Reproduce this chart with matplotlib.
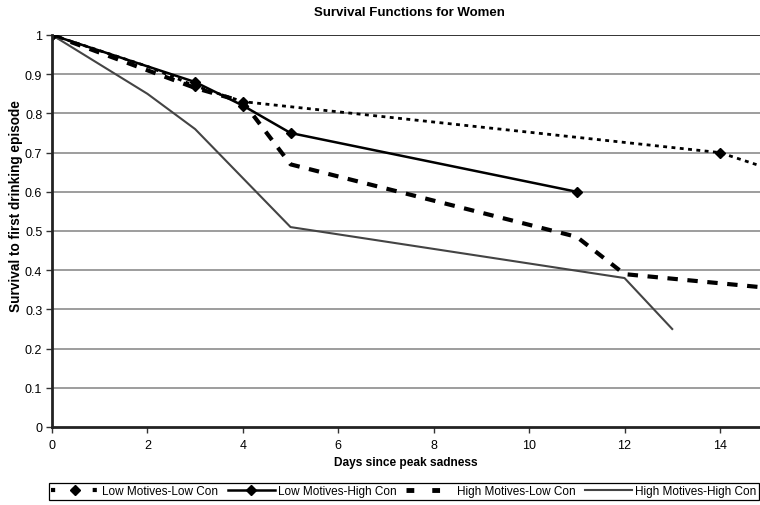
import matplotlib
matplotlib.use("Agg")
import matplotlib.pyplot as plt
from matplotlib.lines import Line2D

plt.rcParams['font.family'] = ['Liberation Sans', 'DejaVu Sans']

# Data
llc_x = [0, 2, 3, 4, 14, 15]
llc_y = [1.0, 0.92, 0.87, 0.83, 0.70, 0.66]
lhc_x = [0, 3, 4, 5, 11]
lhc_y = [1.0, 0.88, 0.82, 0.75, 0.60]
hlc_x = [0, 3, 4, 5, 11, 12, 15]
hlc_y = [1.0, 0.865, 0.83, 0.67, 0.485, 0.39, 0.355]
hhc_x = [0, 2, 3, 5, 12, 13]
hhc_y = [1.0, 0.85, 0.76, 0.51, 0.38, 0.25]

labels = ["Low Motives-Low Con", "Low Motives-High Con",
          "High Motives-Low Con", "High Motives-High Con"]
xticks = [0, 2, 4, 6, 8, 10, 12, 14]
yticks = [0, 0.1, 0.2, 0.3, 0.4, 0.5, 0.6, 0.7, 0.8, 0.9, 1.0]
ytick_labels = ["0", "0.1", "0.2", "0.3", "0.4", "0.5", "0.6", "0.7", "0.8", "0.9", "1"]

fig = plt.figure(figsize=(7.6, 5.06), dpi=100)
ax = fig.add_axes([52/760, 1 - 428/506, 1 - 52/760, (428 - 36)/506])

ax.set_xlim(0, 14.84)
ax.set_ylim(0, 1)

for y in yticks[1:]:
    ax.axhline(y, color='#8c8c8c' if y < 1 else '#333333', lw=1.2 if y < 1 else 1.4, zorder=1)

ax.plot(llc_x, llc_y, color='black', lw=2.0, dashes=(1.4, 1.6),
        marker='D', ms=5.5, markevery=[0, 2, 3, 4], zorder=3, label=labels[0])
ax.plot(lhc_x, lhc_y, color='black', lw=1.8, marker='D', ms=5.5, zorder=4, label=labels[1])
ax.plot(hlc_x, hlc_y, color='black', lw=3.0, dashes=(2.5, 2.3), zorder=3, label=labels[2])
ax.plot(hhc_x, hhc_y, color='#444444', lw=1.5, zorder=3, label=labels[3])

ax.set_xticks(xticks)
ax.set_yticks(yticks)
ax.set_yticklabels(ytick_labels)
ax.tick_params(axis='both', labelsize=9, length=4, width=1, direction='out', color='#333333')
ax.tick_params(axis='y', pad=3)
ax.tick_params(axis='x', pad=5)

for s in ['top', 'right']:
    ax.spines[s].set_visible(False)
for s in ['left', 'bottom']:
    ax.spines[s].set_linewidth(2.0)
    ax.spines[s].set_color('#222222')
    ax.spines[s].set_zorder(5)

ax.set_xlabel("Days since peak sadness", fontsize=8.6, fontweight='bold', labelpad=3)
ax.set_ylabel("Survival to first drinking episode", fontsize=9.8, fontweight='bold', labelpad=3)
ax.yaxis.set_label_coords(-(52 - 23)/708, (428 - 206)/392)
fig.text(409/760, 1 - 13/506, "Survival Functions for Women", ha='center', va='center',
         fontsize=9.5, fontweight='bold')

handles = [
    Line2D([], [], color='black', lw=3, dashes=(1.0, 4.0), marker='D', ms=5.5),
    Line2D([], [], color='black', lw=1.8, marker='D', ms=5.5),
    Line2D([], [], color='black', lw=3.5, dashes=(1.6, 3.7)),
    Line2D([], [], color='#444444', lw=1.5),
]
leg = fig.legend(handles, labels, loc='center', bbox_to_anchor=(404/760, 1 - 492.5/506),
                 ncol=4, fontsize=8.5, frameon=True, fancybox=False, edgecolor='black',
                 handlelength=4.0, handletextpad=0.25, columnspacing=0.85, borderpad=0.2,
                 framealpha=1)
leg.get_frame().set_linewidth(0.9)

fig.savefig("out.png", dpi=100)
